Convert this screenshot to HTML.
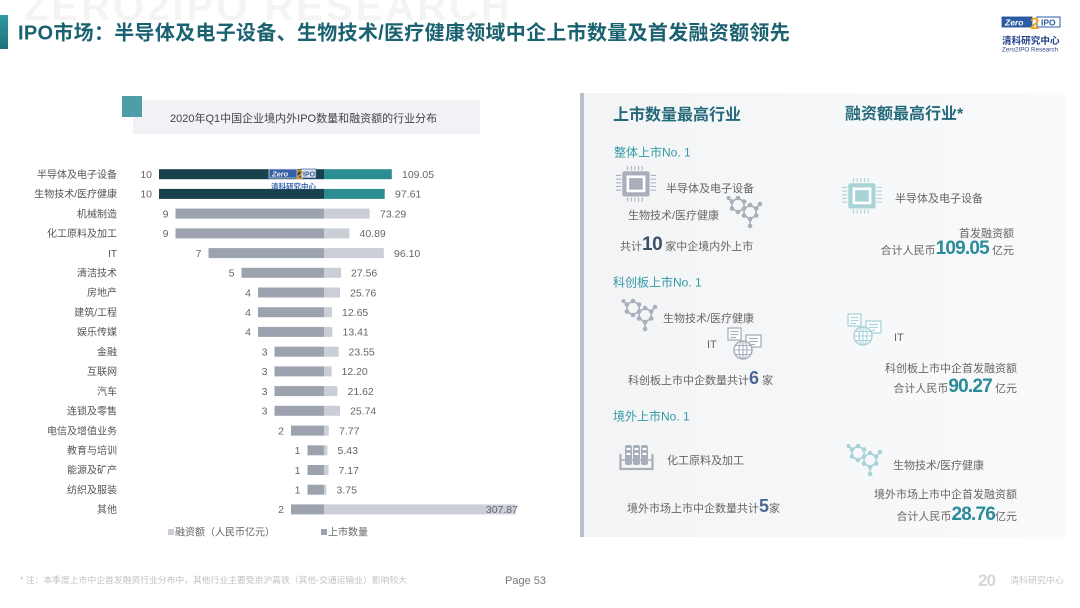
<!DOCTYPE html>
<html><head><meta charset="utf-8"><style>
html,body{margin:0;padding:0;background:#fff;}
svg{display:block;font-family:"Liberation Sans","Noto Sans CJK SC",sans-serif;}
</style></head><body>
<svg width="1080" height="608" viewBox="0 0 1080 608" xmlns="http://www.w3.org/2000/svg">
<defs>
<linearGradient id="pg" x1="0" x2="1" y1="0" y2="0"><stop offset="0" stop-color="#f3f4f6"/><stop offset="1" stop-color="#f9fafb"/></linearGradient>
<linearGradient id="tb" x1="0" x2="0" y1="0" y2="1"><stop offset="0" stop-color="#2f9aa2"/><stop offset="1" stop-color="#1f6f7a"/></linearGradient>
<g id="chip">
 <g stroke-width="1">
  <line x1="11" y1="0" x2="11" y2="4"/><line x1="14.5" y1="0" x2="14.5" y2="4"/><line x1="18" y1="0" x2="18" y2="4"/><line x1="21.5" y1="0" x2="21.5" y2="4"/><line x1="25" y1="0" x2="25" y2="4"/>
  <line x1="11" y1="30" x2="11" y2="34"/><line x1="14.5" y1="30" x2="14.5" y2="34"/><line x1="18" y1="30" x2="18" y2="34"/><line x1="21.5" y1="30" x2="21.5" y2="34"/><line x1="25" y1="30" x2="25" y2="34"/>
  <line x1="0" y1="9" x2="5" y2="9"/><line x1="0" y1="12.5" x2="5" y2="12.5"/><line x1="0" y1="16" x2="5" y2="16"/><line x1="0" y1="19.5" x2="5" y2="19.5"/><line x1="0" y1="23" x2="5" y2="23"/>
  <line x1="33" y1="9" x2="38" y2="9"/><line x1="33" y1="12.5" x2="38" y2="12.5"/><line x1="33" y1="16" x2="38" y2="16"/><line x1="33" y1="19.5" x2="38" y2="19.5"/><line x1="33" y1="23" x2="38" y2="23"/>
 </g>
 <rect x="6" y="5" width="26" height="24" rx="2" stroke="none"/>
 <rect x="10" y="9" width="18" height="16" fill="#fff" stroke="none"/>
 <rect x="12.5" y="11.5" width="13" height="11" stroke="none"/>
</g>
<g id="mol">
 <g fill="none" stroke-width="1.6">
  <polygon points="17.1,13.5 11,17 4.9,13.5 4.9,6.5 11,3 17.1,6.5"/>
  <polygon points="29.2,20.5 23.1,24 17,20.5 17,13.5 23.1,10 29.2,13.5"/>
  <line x1="29.2" y1="13.5" x2="33" y2="9"/><line x1="23.1" y1="24" x2="23.1" y2="31"/><line x1="4.9" y1="6.5" x2="1.5" y2="3"/>
 </g>
 <g stroke="none">
  <circle cx="17.1" cy="13.5" r="2.3"/><circle cx="11" cy="17" r="2.3"/><circle cx="4.9" cy="13.5" r="2.3"/><circle cx="4.9" cy="6.5" r="2.3"/><circle cx="11" cy="3" r="2.3"/><circle cx="17.1" cy="6.5" r="2.3"/>
  <circle cx="29.2" cy="20.5" r="2.3"/><circle cx="23.1" cy="24" r="2.3"/><circle cx="17" cy="20.5" r="2.3"/><circle cx="23.1" cy="10" r="2.3"/><circle cx="29.2" cy="13.5" r="2.3"/>
  <circle cx="33" cy="9" r="2.3"/><circle cx="23.1" cy="31" r="2.3"/><circle cx="1.5" cy="3" r="2"/>
 </g>
</g>
<g id="globe">
 <g fill="#fff" stroke-width="1.3">
  <rect x="1" y="1" width="13" height="12"/>
  <rect x="19" y="8" width="15" height="12"/>
 </g>
 <g stroke-width="1.2">
  <line x1="3.5" y1="4.5" x2="11.5" y2="4.5"/><line x1="3.5" y1="7.5" x2="11.5" y2="7.5"/><line x1="3.5" y1="10.5" x2="9" y2="10.5"/>
  <line x1="22" y1="11.5" x2="31" y2="11.5"/><line x1="22" y1="14.5" x2="31" y2="14.5"/><line x1="22" y1="17.5" x2="28" y2="17.5"/>
 </g>
 <circle cx="16" cy="23" r="9" fill="#fff" stroke-width="1.5"/>
 <g fill="none" stroke-width="1.1">
  <ellipse cx="16" cy="23" rx="4" ry="9"/><line x1="16" y1="14" x2="16" y2="32"/><line x1="7" y1="23" x2="25" y2="23"/><line x1="8.5" y1="18.5" x2="23.5" y2="18.5"/><line x1="8.5" y1="27.5" x2="23.5" y2="27.5"/>
 </g>
</g>
<g id="tubes">
 <g stroke="none">
  <rect x="6" y="0" width="7" height="20" rx="2"/><rect x="14" y="0" width="7" height="20" rx="2"/><rect x="22" y="0" width="7" height="20" rx="2"/>
 </g>
 <g fill="#fff" stroke="none">
  <rect x="7.5" y="3" width="4" height="2"/><rect x="15.5" y="3" width="4" height="2"/><rect x="23.5" y="3" width="4" height="2"/>
  <rect x="7.5" y="8" width="4" height="2"/><rect x="15.5" y="8" width="4" height="2"/><rect x="23.5" y="8" width="4" height="2"/>
 </g>
 <polyline points="1.5,9 1.5,24 33.5,24 33.5,9" fill="none" stroke-width="2.2"/>
 <line x1="1.5" y1="15" x2="33.5" y2="15" stroke-width="1.5"/>
</g>
</defs>

<!-- watermark -->
<text x="24" y="20" font-size="40" font-weight="bold" fill="#f4f4f4" letter-spacing="3">ZERO2IPO RESEARCH</text>

<!-- main title -->
<rect x="0" y="15" width="8" height="34" fill="url(#tb)"/>
<text x="18" y="39.4" font-size="20" font-weight="bold" fill="#1b6270" letter-spacing="0.3">IPO市场：半导体及电子设备、生物技术/医疗健康领域中企上市数量及首发融资额领先</text>

<!-- top right logo -->
<rect x="1002" y="17" width="30" height="10" fill="#2d5da6" stroke="#1f4a90" stroke-width="0.8"/>
<text x="1005" y="25.3" font-size="8.5" font-weight="bold" font-style="italic" fill="#fff">Zero</text>
<rect x="1037" y="17" width="23" height="10" fill="#fff" stroke="#2d5da6" stroke-width="1"/>
<text x="1041" y="25.3" font-size="8.5" font-weight="bold" fill="#2d5da6">IPO</text>
<text x="1030" y="29" font-size="17" font-weight="bold" fill="#f2a623">2</text>
<text x="1002" y="44" font-size="9.6" font-weight="bold" fill="#223f8c">清科研究中心</text>
<text x="1002" y="51.5" font-size="6.3" fill="#2d4a8a">Zero2IPO Research</text>

<!-- chart title -->
<rect x="133" y="100" width="347" height="34" fill="#f0f2f5"/>
<rect x="122" y="96" width="20" height="21" fill="#4f9ea7"/>
<text x="170" y="122" font-size="11" fill="#444">2020年Q1中国企业境内外IPO数量和融资额的行业分布</text>

<!-- bars -->
<g>
<rect x="159" y="169.2" width="165" height="10" fill="#18414b"/><rect x="324" y="169.2" width="67.8" height="10" fill="#2b8c92"/>
<rect x="159" y="188.9" width="165" height="10" fill="#18414b"/><rect x="324" y="188.9" width="60.7" height="10" fill="#2b8c92"/>
</g>
<g fill="#c9ced7">
<rect x="324" y="208.6" width="45.6" height="10"/>
<rect x="324" y="228.4" width="25.4" height="10"/>
<rect x="324" y="248.1" width="59.8" height="10"/>
<rect x="324" y="267.8" width="17.1" height="10"/>
<rect x="324" y="287.5" width="16" height="10"/>
<rect x="324" y="307.2" width="7.9" height="10"/>
<rect x="324" y="326.9" width="8.3" height="10"/>
<rect x="324" y="346.7" width="14.6" height="10"/>
<rect x="324" y="366.4" width="7.6" height="10"/>
<rect x="324" y="386.1" width="13.4" height="10"/>
<rect x="324" y="405.8" width="16" height="10"/>
<rect x="324" y="425.6" width="4.8" height="10"/>
<rect x="324" y="445.3" width="3.4" height="10"/>
<rect x="324" y="465" width="4.5" height="10"/>
<rect x="324" y="484.7" width="2.3" height="10"/>
<rect x="324" y="504.4" width="191.5" height="10"/>
</g>
<g fill="#9ca3ae">
<rect x="175.5" y="208.6" width="148.5" height="10"/>
<rect x="175.5" y="228.4" width="148.5" height="10"/>
<rect x="208.5" y="248.1" width="115.5" height="10"/>
<rect x="241.5" y="267.8" width="82.5" height="10"/>
<rect x="258" y="287.5" width="66" height="10"/>
<rect x="258" y="307.2" width="66" height="10"/>
<rect x="258" y="326.9" width="66" height="10"/>
<rect x="274.5" y="346.7" width="49.5" height="10"/>
<rect x="274.5" y="366.4" width="49.5" height="10"/>
<rect x="274.5" y="386.1" width="49.5" height="10"/>
<rect x="274.5" y="405.8" width="49.5" height="10"/>
<rect x="291" y="425.6" width="33" height="10"/>
<rect x="307.5" y="445.3" width="16.5" height="10"/>
<rect x="307.5" y="465" width="16.5" height="10"/>
<rect x="307.5" y="484.7" width="16.5" height="10"/>
<rect x="291" y="504.4" width="33" height="10"/>
</g>

<!-- mini watermark logo on bars -->
<g opacity="0.9">
<rect x="269" y="169" width="28" height="9" fill="#3a64b0" stroke="#dfe6f5" stroke-width="0.8"/>
<text x="272" y="176.5" font-size="7.5" font-weight="bold" font-style="italic" fill="#fff">Zero</text>
<rect x="301" y="169" width="15" height="9" fill="#f4f6fb" stroke="#3a64b0" stroke-width="0.8"/>
<text x="303" y="176.5" font-size="7" font-weight="bold" fill="#3a64b0">IPO</text>
<text x="296" y="179" font-size="13" font-weight="bold" fill="#f0a020">2</text>
<text x="271" y="189" font-size="7.5" font-weight="bold" fill="#2a5aa8">清科研究中心</text>
</g>

<!-- category labels -->
<g font-size="10" fill="#555" text-anchor="end">
<text x="117" y="177.9">半导体及电子设备</text>
<text x="117" y="197.6">生物技术/医疗健康</text>
<text x="117" y="217.3">机械制造</text>
<text x="117" y="237.1">化工原料及加工</text>
<text x="117" y="256.8">IT</text>
<text x="117" y="276.5">清洁技术</text>
<text x="117" y="296.2">房地产</text>
<text x="117" y="315.9">建筑/工程</text>
<text x="117" y="335.6">娱乐传媒</text>
<text x="117" y="355.4">金融</text>
<text x="117" y="375.1">互联网</text>
<text x="117" y="394.8">汽车</text>
<text x="117" y="414.5">连锁及零售</text>
<text x="117" y="434.3">电信及增值业务</text>
<text x="117" y="454">教育与培训</text>
<text x="117" y="473.7">能源及矿产</text>
<text x="117" y="493.4">纺织及服装</text>
<text x="117" y="513.1">其他</text>
</g>
<!-- count labels -->
<g font-size="10.5" fill="#666" text-anchor="end">
<text x="152" y="178">10</text>
<text x="152" y="197.7">10</text>
<text x="168.5" y="217.4">9</text>
<text x="168.5" y="237.2">9</text>
<text x="201.5" y="256.9">7</text>
<text x="234.5" y="276.6">5</text>
<text x="251" y="296.3">4</text>
<text x="251" y="316">4</text>
<text x="251" y="335.7">4</text>
<text x="267.5" y="355.5">3</text>
<text x="267.5" y="375.2">3</text>
<text x="267.5" y="394.9">3</text>
<text x="267.5" y="414.6">3</text>
<text x="284" y="434.4">2</text>
<text x="300.5" y="454.1">1</text>
<text x="300.5" y="473.8">1</text>
<text x="300.5" y="493.5">1</text>
<text x="284" y="513.2">2</text>
</g>
<!-- financing labels -->
<g font-size="10.5" fill="#666">
<text x="402" y="178">109.05</text>
<text x="395" y="197.7">97.61</text>
<text x="380" y="217.4">73.29</text>
<text x="359.5" y="237.2">40.89</text>
<text x="394" y="256.9">96.10</text>
<text x="351" y="276.6">27.56</text>
<text x="350" y="296.3">25.76</text>
<text x="342" y="316">12.65</text>
<text x="342.5" y="335.7">13.41</text>
<text x="348.5" y="355.5">23.55</text>
<text x="341.5" y="375.2">12.20</text>
<text x="347.5" y="394.9">21.62</text>
<text x="350" y="414.6">25.74</text>
<text x="339" y="434.4">7.77</text>
<text x="337.5" y="454.1">5.43</text>
<text x="338.5" y="473.8">7.17</text>
<text x="336.5" y="493.5">3.75</text>
<text x="518" y="513.2" text-anchor="end">307.87</text>
</g>

<!-- legend -->
<rect x="168" y="529" width="6" height="6" fill="#c9ced7"/>
<text x="175" y="535.7" font-size="10" fill="#666">融资额（人民币亿元）</text>
<rect x="321" y="529" width="6" height="6" fill="#9ca3ae"/>
<text x="328" y="535.7" font-size="10" fill="#666">上市数量</text>

<!-- right panel -->
<rect x="580" y="93" width="485" height="444" fill="url(#pg)"/>
<rect x="580" y="93" width="4" height="444" fill="#b9c0cb"/>

<text x="613" y="119.9" font-size="16" font-weight="bold" fill="#23697a">上市数量最高行业</text>
<text x="845" y="118.9" font-size="16" font-weight="bold" fill="#23697a">融资额最高行业*</text>

<text x="614" y="156.4" font-size="12" fill="#3399a6">整体上市No. 1</text>
<use href="#chip" transform="translate(616,166) scale(1.05)" fill="#a8afbb" stroke="#a8afbb"/>
<text x="666" y="192" font-size="11" fill="#666">半导体及电子设备</text>
<text x="628" y="219" font-size="11" fill="#666">生物技术/医疗健康</text>
<use href="#mol" x="727" y="195" fill="#a8afbb" stroke="#a8afbb"/>
<text x="620" y="250" font-size="11" fill="#666">共计<tspan font-size="19" font-weight="bold" fill="#3b5068" letter-spacing="-0.5">10</tspan> 家中企境内外上市</text>

<text x="613" y="286.4" font-size="12" fill="#3399a6">科创板上市No. 1</text>
<use href="#mol" x="622" y="298" fill="#a8afbb" stroke="#a8afbb"/>
<text x="663" y="322" font-size="11" fill="#666">生物技术/医疗健康</text>
<text x="707" y="348" font-size="11" fill="#666">IT</text>
<use href="#globe" x="727" y="327" stroke="#a8afbb" fill="#a8afbb"/>
<text x="628" y="384" font-size="11" fill="#666">科创板上市中企数量共计<tspan font-size="18" font-weight="bold" fill="#4a6a95">6</tspan> 家</text>

<text x="613" y="420.4" font-size="12" fill="#3399a6">境外上市No. 1</text>
<use href="#tubes" x="619" y="445" fill="#a8afbb" stroke="#a8afbb"/>
<text x="667" y="464" font-size="11" fill="#666">化工原料及加工</text>
<text x="627" y="512" font-size="11" fill="#666">境外市场上市中企数量共计<tspan font-size="18" font-weight="bold" fill="#4a6a95">5</tspan>家</text>

<use href="#chip" transform="translate(842,178) scale(1.05)" fill="#a9d3d7" stroke="#a9d3d7"/>
<text x="895" y="202" font-size="11" fill="#666">半导体及电子设备</text>
<text x="1014" y="237" font-size="11" fill="#666" text-anchor="end">首发融资额</text>
<text x="1014" y="254" font-size="11" fill="#666" text-anchor="end">合计人民币<tspan font-size="19" font-weight="bold" fill="#2a8c99" letter-spacing="-0.8">109.05</tspan> 亿元</text>

<use href="#globe" x="847" y="313" stroke="#a9d3d7" fill="#a9d3d7"/>
<text x="894" y="341" font-size="11" fill="#666">IT</text>
<text x="1017" y="372" font-size="11" fill="#666" text-anchor="end">科创板上市中企首发融资额</text>
<text x="1017" y="392" font-size="11" fill="#666" text-anchor="end">合计人民币<tspan font-size="19" font-weight="bold" fill="#2a8c99" letter-spacing="-0.8">90.27</tspan> 亿元</text>

<use href="#mol" x="847" y="443" fill="#a9d3d7" stroke="#a9d3d7"/>
<text x="893" y="469" font-size="11" fill="#666">生物技术/医疗健康</text>
<text x="1017" y="498" font-size="11" fill="#666" text-anchor="end">境外市场上市中企首发融资额</text>
<text x="1017" y="520" font-size="11" fill="#666" text-anchor="end">合计人民币<tspan font-size="19" font-weight="bold" fill="#2a8c99" letter-spacing="-0.8">28.76</tspan>亿元</text>

<!-- footer -->
<text x="20" y="583" font-size="8.8" fill="#c2c2c2">* 注：本季度上市中企首发融资行业分布中，其他行业主要受京沪高铁（其他-交通运输业）影响较大</text>
<text x="505" y="584" font-size="11" fill="#777">Page  53</text>
<text x="978" y="586" font-size="17" font-weight="bold" fill="#d6d6d6" letter-spacing="-1">20</text>
<text x="1010" y="583.5" font-size="9" fill="#c4c4c4">清科研究中心</text>
</svg>
</body></html>
